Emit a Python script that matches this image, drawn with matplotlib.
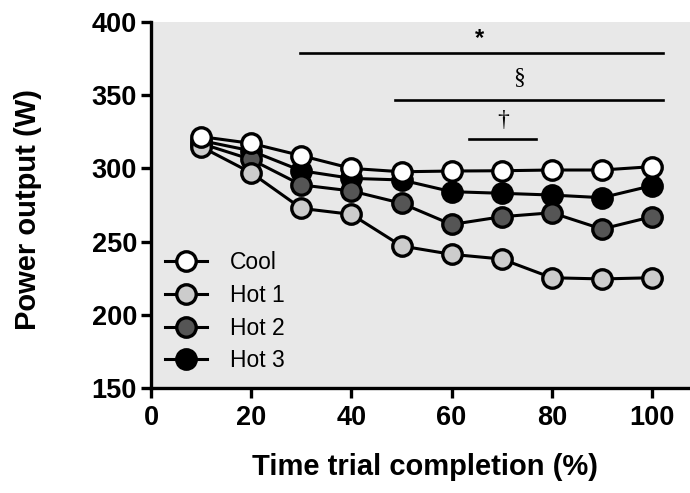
import matplotlib
matplotlib.use("Agg")
import matplotlib.pyplot as plt

plt.rcParams['font.family'] = ['Liberation Sans', 'DejaVu Sans']

x = [10, 20, 30, 40, 50, 60, 70, 80, 90, 100]
cool = [321.7, 317.1, 308.7, 300.0, 297.7, 298.2, 298.4, 298.9, 298.9, 301.2]
hot1 = [314.8, 297.0, 272.7, 268.6, 247.0, 241.3, 238.1, 225.3, 224.5, 225.3]
hot2 = [317.0, 306.1, 288.7, 284.6, 276.2, 261.7, 267.0, 269.7, 258.6, 267.0]
hot3 = [319.0, 312.0, 298.4, 293.2, 292.1, 284.1, 283.0, 281.8, 280.0, 288.2]

series_names = ["Cool", "Hot 1", "Hot 2", "Hot 3"]
series_colors = ["#ffffff", "#cccccc", "#555555", "#000000"]

# significance bars: (x start, x end, y line, symbol, symbol x, symbol y)
sig_bars = [(29.8, 102.1, 378.6, "*", 65.6, 388.5),
            (48.8, 102.1, 346.7, "§", 73.4, 362.0),
            (63.4, 76.8, 320.0, "†", 70.2, 333.0)]

fig = plt.figure(figsize=(6.9, 4.93), dpi=100)
ax = fig.add_axes([151/690, 1-388/493, 1-151/690, (388-22)/493])
ax.set_facecolor("#e8e8e8")

data = {"Cool": cool, "Hot 1": hot1, "Hot 2": hot2, "Hot 3": hot3}
handles = {}
for name, col in reversed(list(zip(series_names, series_colors))):
    h, = ax.plot(x, data[name], '-o', color='black', lw=2.2,
                 markerfacecolor=col, markeredgecolor='black',
                 markersize=14, markeredgewidth=2.4, label=name, clip_on=False)
    handles[name] = h

for x0, x1, yl, sym, sx, sy in sig_bars:
    ax.plot([x0, x1], [yl, yl], color='black', lw=1.9, clip_on=False)
    if sym == "*":
        ax.text(sx, sy, sym, ha='center', va='center', fontsize=17, fontweight='bold')
    else:
        ax.text(sx, sy, sym, ha='center', va='center', fontsize=17,
                family=['Liberation Serif', 'DejaVu Serif'])

ax.set_xlim(0, (690-151)/5.01)
ax.set_ylim(150, 400)
ax.set_xticks([0, 20, 40, 60, 80, 100])
ax.set_yticks([150, 200, 250, 300, 350, 400])
for s in ['top', 'right']:
    ax.spines[s].set_visible(False)
for s in ['left', 'bottom']:
    ax.spines[s].set_linewidth(2.4)
ax.tick_params(axis='both', direction='out', length=7, width=2.4,
               labelsize=19.5, pad=3)
ax.tick_params(axis='x', pad=5)
for lab in ax.get_xticklabels() + ax.get_yticklabels():
    lab.set_fontweight('bold')

fig.text(425/690, 1-467/493, "Time trial completion (%)", fontsize=21,
         fontweight='bold', ha='center', va='center')
fig.text(28/690, 1-209/493, "Power output (W)", fontsize=21,
         fontweight='bold', ha='center', va='center', rotation=90)

leg = ax.legend([handles[n] for n in series_names], series_names,
                loc='center left', bbox_to_anchor=(0.009, 0.208), frameon=False,
                fontsize=16.5, handlelength=1.85, handletextpad=1.0,
                labelspacing=0.42, borderaxespad=0.0)

fig.savefig("out.png", dpi=100)
